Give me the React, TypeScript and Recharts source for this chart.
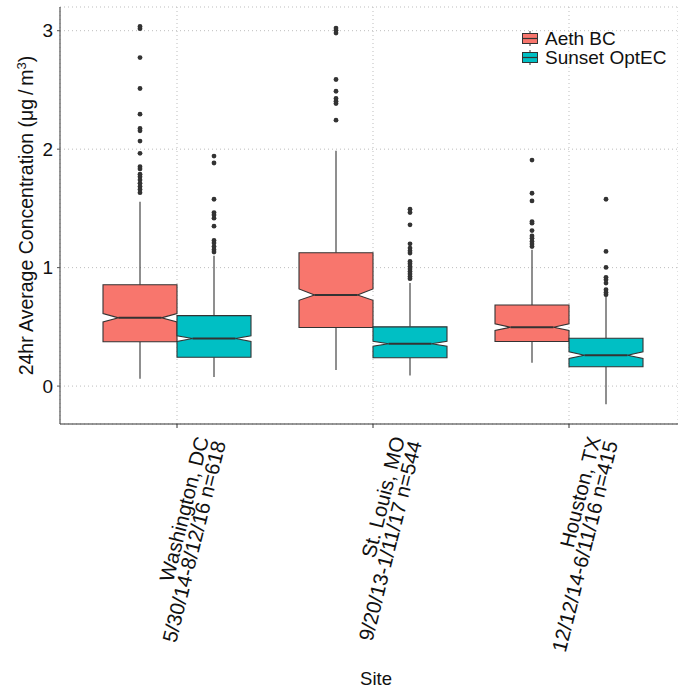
import React from "react";
import { ComposedChart, Bar, XAxis, YAxis, CartesianGrid, Legend } from "recharts";

const FONT = '"Liberation Sans", Arial, sans-serif';
const INK = "#333333";

const SITES = ["Washington, DC", "St. Louis, MO", "Houston, TX"];
const SITE_DATES = ["5/30/14-8/12/16 n=618", "9/20/13-1/11/17 n=544", "12/12/14-6/11/16 n=415"];

const SERIES = ["Aeth BC", "Sunset OptEC"];
const COLORS = ["#F8766D", "#00BFC4"];

// Aeth BC, one value per site
const AETH_LOWER = [0.062, 0.135, 0.197];
const AETH_Q1 = [0.374, 0.494, 0.376];
const AETH_MEDIAN = [0.576, 0.769, 0.497];
const AETH_Q3 = [0.856, 1.125, 0.685];
const AETH_UPPER = [1.557, 1.987, 1.151];
const AETH_NOTCH_LO = [0.542, 0.724, 0.469];
const AETH_NOTCH_HI = [0.612, 0.82, 0.525];
const AETH_OUTLIERS = [
  [3.036, 3.017, 2.773, 2.512, 2.295, 2.175, 2.155, 2.068, 1.965, 1.852, 1.833, 1.788, 1.768, 1.74, 1.712, 1.684, 1.66, 1.633],
  [3.022, 3.003, 2.98, 2.588, 2.489, 2.428, 2.405, 2.385, 2.245],
  [1.908, 1.628, 1.563, 1.389, 1.375, 1.313, 1.268, 1.249, 1.221, 1.199, 1.178],
];

// Sunset OptEC, one value per site
const SUNSET_LOWER = [0.076, 0.09, -0.154];
const SUNSET_Q1 = [0.244, 0.239, 0.163];
const SUNSET_MEDIAN = [0.402, 0.357, 0.261];
const SUNSET_Q3 = [0.595, 0.5, 0.404];
const SUNSET_UPPER = [1.1, 0.87, 0.758];
const SUNSET_NOTCH_LO = [0.376, 0.337, 0.233];
const SUNSET_NOTCH_HI = [0.424, 0.379, 0.289];
const SUNSET_OUTLIERS = [
  [1.942, 1.883, 1.577, 1.465, 1.445, 1.417, 1.35, 1.229, 1.207, 1.178, 1.151, 1.131],
  [1.493, 1.465, 1.361, 1.201, 1.165, 1.142, 1.123, 1.052, 1.033, 1.01, 0.988, 0.968, 0.946, 0.926, 0.907],
  [1.577, 1.137, 1.002, 0.918, 0.898, 0.87, 0.814, 0.791, 0.772],
];

const Y_TICKS = [0, 1, 2, 3];

const aethBoxes = SITES.map((_, i) => ({
  lower: AETH_LOWER[i],
  q1: AETH_Q1[i],
  median: AETH_MEDIAN[i],
  q3: AETH_Q3[i],
  upper: AETH_UPPER[i],
  notchLo: AETH_NOTCH_LO[i],
  notchHi: AETH_NOTCH_HI[i],
  outliers: AETH_OUTLIERS[i],
}));

const sunsetBoxes = SITES.map((_, i) => ({
  lower: SUNSET_LOWER[i],
  q1: SUNSET_Q1[i],
  median: SUNSET_MEDIAN[i],
  q3: SUNSET_Q3[i],
  upper: SUNSET_UPPER[i],
  notchLo: SUNSET_NOTCH_LO[i],
  notchHi: SUNSET_NOTCH_HI[i],
  outliers: SUNSET_OUTLIERS[i],
}));

const rows = SITES.map((site, i) => ({
  site,
  aeth: aethBoxes[i],
  sunset: sunsetBoxes[i],
  aethRange: [aethBoxes[i].lower, aethBoxes[i].upper],
  sunsetRange: [sunsetBoxes[i].lower, sunsetBoxes[i].upper],
}));

// the bar spans lower..upper whisker; everything else is placed on the same linear scale
function NotchedBox(props: any) {
  const { x, y, width, height, fill, payload, series } = props;
  const s = payload[series];
  const top = Math.min(y, y + height);
  const bottom = Math.max(y, y + height);
  const toY = (v: number) => top + ((bottom - top) * (s.upper - v)) / (s.upper - s.lower);
  const x0 = x;
  const x1 = x + width;
  const cx = x + width / 2;
  const ind = width * 0.21;
  const q1 = toY(s.q1);
  const q3 = toY(s.q3);
  const md = toY(s.median);
  const nLo = toY(s.notchLo);
  const nHi = toY(s.notchHi);
  const pts = [
    [x0, q3], [x1, q3], [x1, nHi], [x1 - ind, md], [x1, nLo], [x1, q1],
    [x0, q1], [x0, nLo], [x0 + ind, md], [x0, nHi],
  ].map((p) => p.join(",")).join(" ");
  return (
    <g>
      <line x1={cx} x2={cx} y1={toY(s.upper)} y2={q3} stroke={INK} strokeWidth={1.1} />
      <line x1={cx} x2={cx} y1={q1} y2={toY(s.lower)} stroke={INK} strokeWidth={1.1} />
      <polygon points={pts} fill={fill} stroke={INK} strokeWidth={1.1} />
      <line x1={x0 + ind} x2={x1 - ind} y1={md} y2={md} stroke={INK} strokeWidth={2} />
      {s.outliers.map((v: number, k: number) => (
        <circle key={k} cx={cx} cy={toY(v)} r={2.4} fill={INK} />
      ))}
    </g>
  );
}

function SiteTick(props: any) {
  const { x, y, payload } = props;
  const i = SITES.indexOf(payload.value);
  const ax = x + 32;
  const ay = y + 8.6;
  return (
    <text
      x={ax}
      y={ay}
      transform={`rotate(-76, ${ax}, ${ay})`}
      textAnchor="end"
      fontSize={20.5}
      fill="#111"
      fontFamily={FONT}
    >
      <tspan x={ax} y={ay}>{payload.value}</tspan>
      <tspan x={ax} dy={17.5}>{SITE_DATES[i]}</tspan>
    </text>
  );
}

function YTitle() {
  return (
    <text
      x={33}
      y={215.5}
      transform="rotate(-90, 33, 215.5)"
      textAnchor="middle"
      fontSize={19.5}
      fill="#111"
      fontFamily={FONT}
    >
      <tspan>24hr Average Concentration (μg{"\u2009"}/{"\u2009"}m</tspan>
      <tspan dy={-7} fontSize={13}>3</tspan>
      <tspan dy={7}>)</tspan>
    </text>
  );
}

function XTitle() {
  return (
    <text x={376} y={685} textAnchor="middle" fontSize={18.5} fill="#111" fontFamily={FONT}>
      Site
    </text>
  );
}

function BoxLegend() {
  return (
    <div style={{ fontFamily: FONT, fontSize: 19, color: "#111" }}>
      {SERIES.map((name, i) => (
        <div key={name} style={{ display: "flex", alignItems: "center", height: 19 }}>
          <svg width={16} height={15} style={{ display: "block" }}>
            <line x1={8} x2={8} y1={0} y2={15} stroke={INK} strokeWidth={1} />
            <rect x={0.5} y={2.5} width={15} height={10} fill={COLORS[i]} stroke={INK} strokeWidth={1} />
            <line x1={0.5} x2={15.5} y1={7.5} y2={7.5} stroke={INK} strokeWidth={1.2} />
          </svg>
          <span style={{ marginLeft: 7, lineHeight: "19px" }}>{name}</span>
        </div>
      ))}
    </div>
  );
}

export default function App() {
  return (
    <div style={{ position: "absolute", left: 0, top: 0, width: 678, height: 690, background: "#fff", fontFamily: FONT }}>
      <ComposedChart
        width={678}
        height={690}
        data={rows}
        margin={{ top: 7, right: 0, left: 0, bottom: 0 }}
        barGap={0}
      >
        <CartesianGrid strokeDasharray="1 3" stroke="#bdbdbd" />
        <XAxis
          dataKey="site"
          height={266}
          padding={{ left: 19, right: 11 }}
          interval={0}
          tickSize={4}
          axisLine={{ stroke: INK, strokeWidth: 1.2 }}
          tickLine={{ stroke: INK }}
          tick={<SiteTick />}
          label={{ content: () => <XTitle /> }}
        />
        <YAxis
          type="number"
          domain={[-0.32, 3.2]}
          ticks={Y_TICKS}
          allowDataOverflow
          width={60}
          tickSize={3}
          tickMargin={4}
          axisLine={{ stroke: "#555", strokeWidth: 1.2 }}
          tickLine={{ stroke: "#555" }}
          tick={{ fontSize: 19, fill: "#111", fontFamily: FONT }}
          label={{ content: () => <YTitle /> }}
        />
        <Legend
          layout="vertical"
          align="center"
          verticalAlign="middle"
          content={() => <BoxLegend />}
          wrapperStyle={{ top: 28.8, left: 522, width: 160, height: 40 }}
        />
        <Bar
          dataKey="aethRange"
          name={SERIES[0]}
          fill={COLORS[0]}
          barSize={74}
          isAnimationActive={false}
          shape={(p: any) => <NotchedBox {...p} series="aeth" />}
        />
        <Bar
          dataKey="sunsetRange"
          name={SERIES[1]}
          fill={COLORS[1]}
          barSize={74}
          isAnimationActive={false}
          shape={(p: any) => <NotchedBox {...p} series="sunset" />}
        />
      </ComposedChart>
    </div>
  );
}
